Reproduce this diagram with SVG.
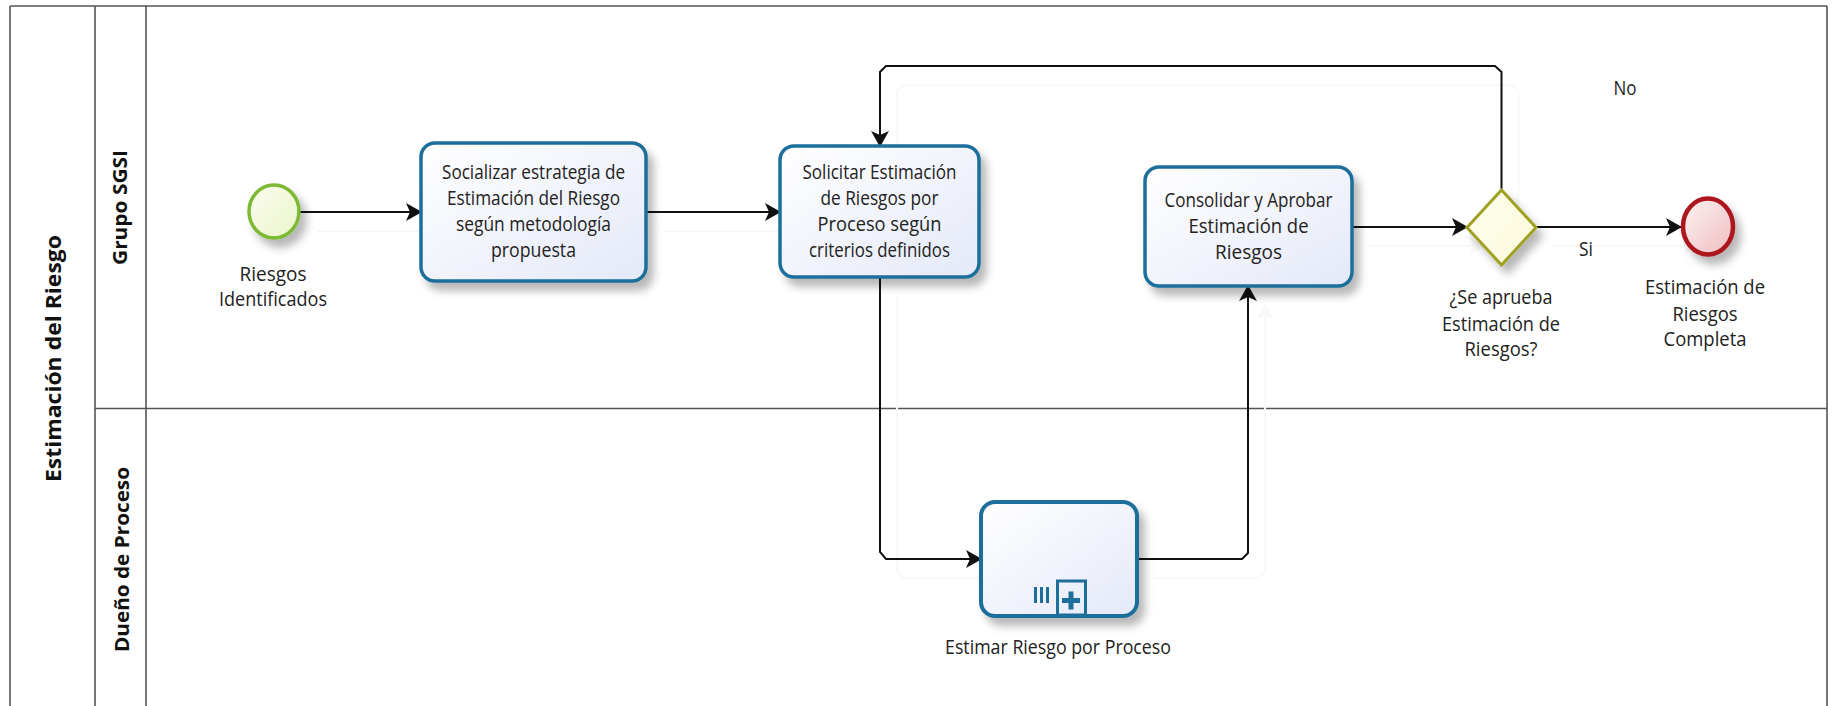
<svg xmlns="http://www.w3.org/2000/svg" xmlns:xlink="http://www.w3.org/1999/xlink" width="1833" height="706" viewBox="0 0 1833 706">
  <style>
    .frame { stroke: #555; stroke-width: 1.6; fill: none; }
    .flow { stroke: #111; stroke-width: 2; fill: none; }
    .task { fill: url(#taskFill); stroke: #1e6e9b; stroke-width: 3.5; }
    .sub { fill: url(#taskFill); stroke: #1e6e9b; stroke-width: 4; }
    .lbl { font-family: "Open Sans", "Noto Sans", sans-serif; font-size: 20px; fill: #222; text-anchor: middle; }
    .head { font-family: "Open Sans", "Noto Sans", sans-serif; font-weight: bold; fill: #111; text-anchor: middle; }
  </style>
  <defs>
    <linearGradient id="taskFill" x1="0" y1="0" x2="1" y2="1">
      <stop offset="0" stop-color="#ffffff"/>
      <stop offset="1" stop-color="#e4e9f8"/>
    </linearGradient>
    <linearGradient id="startFill" x1="0" y1="0" x2="1" y2="1">
      <stop offset="0" stop-color="#fbfdf0"/>
      <stop offset="1" stop-color="#eaf4c8"/>
    </linearGradient>
    <linearGradient id="endFill" x1="0" y1="0" x2="1" y2="1">
      <stop offset="0" stop-color="#fdf3f3"/>
      <stop offset="1" stop-color="#eebcc0"/>
    </linearGradient>
    <linearGradient id="gwFill" x1="0" y1="0" x2="1" y2="1">
      <stop offset="0" stop-color="#ffffee"/>
      <stop offset="1" stop-color="#fbf8da"/>
    </linearGradient>
    <filter id="shadow" x="-20%" y="-20%" width="150%" height="160%">
      <feDropShadow dx="6" dy="8" stdDeviation="4" flood-color="#000" flood-opacity="0.28"/>
    </filter>
    <!-- recolours the flow group into a pale offset echo -->
    <filter id="ghost" x="-5%" y="-5%" width="110%" height="110%">
      <feColorMatrix type="matrix" values="0 0 0 0 0.94  0 0 0 0 0.94  0 0 0 0 0.94  0 0 0 1 0"/>
    </filter>
    <marker id="arrow" viewBox="0 0 16 18" refX="15" refY="9" markerWidth="16" markerHeight="18" markerUnits="userSpaceOnUse" orient="auto">
      <path d="M0,0 L16,9 L0,18 L4,9 Z" fill="#111"/>
    </marker>
  </defs>

  <rect width="1833" height="706" fill="#fff"/>

  <!-- pool and lanes -->
  <g id="pool">
    <path class="frame" d="M10,6 H1827 M10,6 V706 M95,6 V706 M146,6 V706 M1827,6 V706 M95,408.5 H1827"/>
    <text class="head" font-size="22" textLength="247" lengthAdjust="spacingAndGlyphs" transform="translate(60.5 358.5) rotate(-90)">Estimación del Riesgo</text>
  </g>
  <g id="lane-grupo-sgsi">
    <text class="head" font-size="20" textLength="115" lengthAdjust="spacingAndGlyphs" transform="translate(127 207.5) rotate(-90)">Grupo SGSI</text>
  </g>
  <g id="lane-dueno-proceso">
    <text class="head" font-size="20" textLength="185" lengthAdjust="spacingAndGlyphs" transform="translate(128.5 559.5) rotate(-90)">Dueño de Proceso</text>
  </g>

  <!-- pale offset echo of the sequence flows -->
  <use xlink:href="#flows" transform="translate(17 19)" filter="url(#ghost)"/>

  <!-- sequence flows -->
  <g id="flows">
    <path class="flow" d="M300,212 H421" marker-end="url(#arrow)"/>
    <path class="flow" d="M646,212 H780" marker-end="url(#arrow)"/>
    <path class="flow" d="M880,277 V552 L886,559 H981" marker-end="url(#arrow)"/>
    <path class="flow" d="M1137,559 H1242 L1248,553 V286" marker-end="url(#arrow)"/>
    <path class="flow" d="M1352,227 H1467" marker-end="url(#arrow)"/>
    <path class="flow" d="M1536,227 H1681" marker-end="url(#arrow)"/>
    <path class="flow" d="M1501.5,190 V72 L1495,66 H886 L880,72 V146" marker-end="url(#arrow)"/>
  </g>

  <!-- flow labels -->
  <g id="flow-labels">
    <text class="lbl" x="1625" y="95" textLength="23" lengthAdjust="spacingAndGlyphs">No</text>
    <text class="lbl" x="1586" y="256" textLength="14" lengthAdjust="spacingAndGlyphs">Si</text>
  </g>

  <!-- start event -->
  <g id="start-riesgos-identificados">
    <ellipse cx="274" cy="211.5" rx="25" ry="26.5" fill="url(#startFill)" stroke="#7cb934" stroke-width="3.5" filter="url(#shadow)"/>
    <text class="lbl" x="273" y="281" textLength="67" lengthAdjust="spacingAndGlyphs">Riesgos</text>
    <text class="lbl" x="273" y="306" textLength="108" lengthAdjust="spacingAndGlyphs">Identificados</text>
  </g>

  <!-- task: Socializar estrategia -->
  <g id="task-socializar">
    <rect class="task" x="421" y="143" width="225" height="138" rx="14" filter="url(#shadow)"/>
    <text class="lbl" x="533.5" y="179" textLength="183" lengthAdjust="spacingAndGlyphs">Socializar estrategia de</text>
    <text class="lbl" x="533.5" y="205" textLength="173" lengthAdjust="spacingAndGlyphs">Estimación del Riesgo</text>
    <text class="lbl" x="533.5" y="231" textLength="155" lengthAdjust="spacingAndGlyphs">según metodología</text>
    <text class="lbl" x="533.5" y="257" textLength="85" lengthAdjust="spacingAndGlyphs">propuesta</text>
  </g>

  <!-- task: Solicitar Estimación -->
  <g id="task-solicitar">
    <rect class="task" x="780" y="146" width="199" height="131" rx="14" filter="url(#shadow)"/>
    <text class="lbl" x="879.5" y="179" textLength="154" lengthAdjust="spacingAndGlyphs">Solicitar Estimación</text>
    <text class="lbl" x="879.5" y="205" textLength="118" lengthAdjust="spacingAndGlyphs">de Riesgos por</text>
    <text class="lbl" x="879.5" y="231" textLength="124" lengthAdjust="spacingAndGlyphs">Proceso según</text>
    <text class="lbl" x="879.5" y="257" textLength="141" lengthAdjust="spacingAndGlyphs">criterios definidos</text>
  </g>

  <!-- task: Consolidar y Aprobar -->
  <g id="task-consolidar">
    <rect class="task" x="1145" y="167" width="207" height="119" rx="14" filter="url(#shadow)"/>
    <text class="lbl" x="1248.5" y="207" textLength="168" lengthAdjust="spacingAndGlyphs">Consolidar y Aprobar</text>
    <text class="lbl" x="1248.5" y="233" textLength="120" lengthAdjust="spacingAndGlyphs">Estimación de</text>
    <text class="lbl" x="1248.5" y="259" textLength="67" lengthAdjust="spacingAndGlyphs">Riesgos</text>
  </g>

  <!-- multi-instance collapsed subprocess -->
  <g id="subprocess-estimar">
    <rect class="sub" x="981" y="502" width="156" height="114" rx="14" filter="url(#shadow)"/>
    <rect x="1034" y="587" width="3" height="16" fill="#1e6e9b"/>
    <rect x="1040" y="587" width="3" height="16" fill="#1e6e9b"/>
    <rect x="1046" y="587" width="3" height="16" fill="#1e6e9b"/>
    <rect x="1057.5" y="581" width="28" height="34" fill="none" stroke="#1e6e9b" stroke-width="3"/>
    <rect x="1062" y="598" width="18" height="5" fill="#1e6e9b"/>
    <rect x="1068.5" y="591.5" width="5" height="18" fill="#1e6e9b"/>
    <text class="lbl" x="1058" y="654" textLength="226" lengthAdjust="spacingAndGlyphs">Estimar Riesgo por Proceso</text>
  </g>

  <!-- exclusive gateway -->
  <g id="gateway-aprueba">
    <path d="M1501.5,190 L1536,227.5 L1501.5,265 L1467,227.5 Z" fill="url(#gwFill)" stroke="#a0a022" stroke-width="3" stroke-linejoin="miter" filter="url(#shadow)"/>
    <text class="lbl" x="1501" y="304" textLength="103" lengthAdjust="spacingAndGlyphs">¿Se aprueba</text>
    <text class="lbl" x="1501" y="331" textLength="118" lengthAdjust="spacingAndGlyphs">Estimación de</text>
    <text class="lbl" x="1501" y="356" textLength="73" lengthAdjust="spacingAndGlyphs">Riesgos?</text>
  </g>

  <!-- end event -->
  <g id="end-estimacion-completa">
    <ellipse cx="1708" cy="226.5" rx="25" ry="28" fill="url(#endFill)" stroke="#ac161d" stroke-width="4.5" filter="url(#shadow)"/>
    <text class="lbl" x="1705" y="294" textLength="120" lengthAdjust="spacingAndGlyphs">Estimación de</text>
    <text class="lbl" x="1705" y="321" textLength="65" lengthAdjust="spacingAndGlyphs">Riesgos</text>
    <text class="lbl" x="1705" y="346" textLength="83" lengthAdjust="spacingAndGlyphs">Completa</text>
  </g>
</svg>
